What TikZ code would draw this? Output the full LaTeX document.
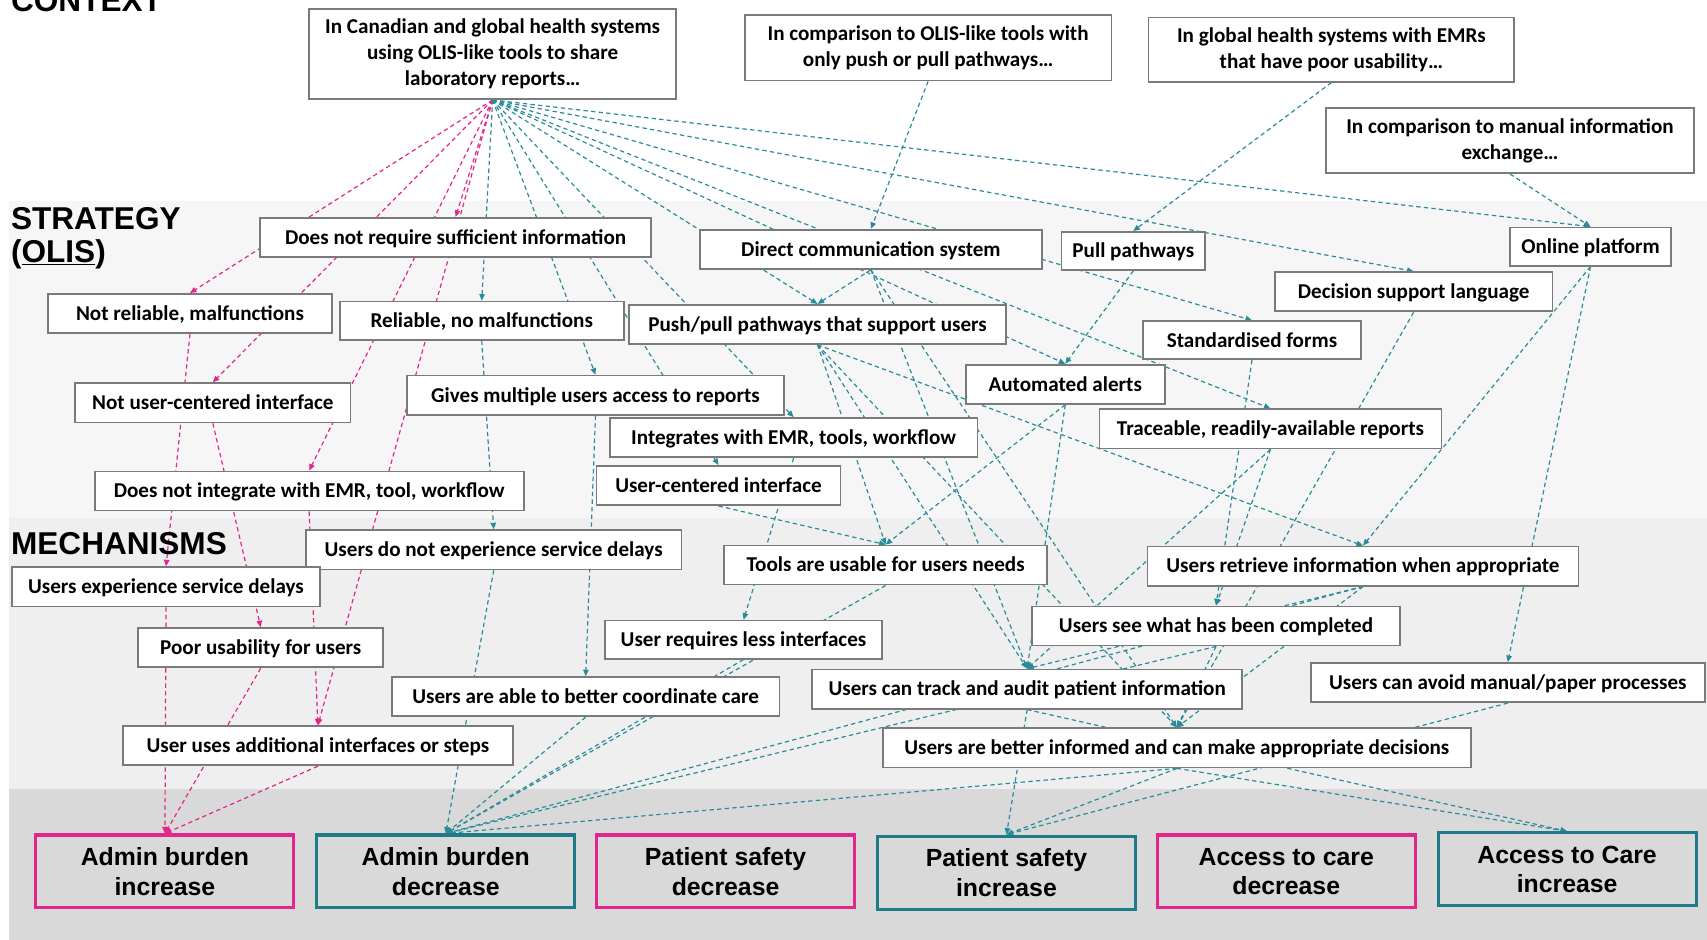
\documentclass[tikz,border=0pt]{standalone}
\usepackage{fontspec}
\setmainfont{Carlito}
\newfontfamily\arialf{Liberation Sans}
\usetikzlibrary{arrows.meta}
\definecolor{pinkc}{HTML}{E3268C}
\definecolor{tealc}{HTML}{2A8C9A}
\definecolor{tealb}{HTML}{1F7A89}
\definecolor{boxgray}{HTML}{7A7A7A}
\definecolor{bandA}{HTML}{F6F6F6}
\definecolor{bandB}{HTML}{EFEFEF}
\definecolor{bandC}{HTML}{D9D9D9}
\pgfdeclarelayer{bands}
\pgfdeclarelayer{edges}
\pgfsetlayers{bands,edges,main}
\tikzset{
  bx/.style={draw=boxgray, line width=1.6pt, fill=white, inner sep=0pt, align=center,
    font=\fontsize{19.4}{24}\selectfont\bfseries, text=black, minimum height=36pt},
  one/.style={bx, text height=16pt, text depth=3.4pt},
  oc/.style={line width=2.8pt, inner sep=0pt, align=center,
    font=\arialf\fontsize{22.8}{27}\selectfont\bfseries, minimum width=237pt, minimum height=67pt},
  ocneg/.style={oc, draw=pinkc},
  ocpos/.style={oc, draw=tealb},
  hdr/.style={font=\arialf\fontsize{29}{32}\selectfont\bfseries, inner sep=0pt, anchor=base west},
  negline/.style={draw=pinkc, line width=1.1pt, dash pattern=on 4pt off 3pt, -{Triangle[length=6pt,width=5pt]}},
  posline/.style={draw=tealc, line width=1.1pt, dash pattern=on 4pt off 3pt, -{Triangle[length=6pt,width=5pt]}},
}
\begin{document}
\begin{tikzpicture}[x=1pt,y=-1pt]
\useasboundingbox (0,0) rectangle (1568,863);
\begin{pgfonlayer}{bands}
\fill[white] (0,0) rectangle (1568,863);
\fill[bandA] (8,185) rectangle (1568,476);
\fill[bandB] (8,476) rectangle (1568,725);
\fill[bandC] (8,725) rectangle (1568,863);
\end{pgfonlayer}

% headers
\node[hdr] (hC) at (10,11) {CONTEXT};
\node[hdr] (hS) at (10,211) {STRATEGY};
\node[hdr] (hO) at (10,241) {(\underline{OLIS})};
\node[hdr] (hM) at (10,509) {MECHANISMS};

% context
\node[bx, minimum width=337pt, minimum height=83pt] (C1) at (452.5,49.5) {In Canadian and global health systems\\using OLIS-like tools to share\\laboratory reports\dots};
\node[bx, minimum width=337pt, minimum height=60pt] (C2) at (852.5,44) {In comparison to OLIS-like tools with\\only push or pull pathways\dots};
\node[bx, minimum width=336pt, minimum height=59pt] (C3) at (1223,45.5) {In global health systems with EMRs\\that have poor usability\dots};
\node[bx, minimum width=338pt, minimum height=60pt] (C4) at (1387,129) {In comparison to manual information\\exchange\dots};

% strategy
\node[one, minimum width=359pt] (S1) at (418.5,218) {Does not require sufficient information};
\node[one, minimum width=314pt] (S2) at (800,229) {Direct communication system};
\node[one, minimum width=132pt, minimum height=35pt] (S3) at (1041,230.5) {Pull pathways};
\node[one, minimum width=148pt, minimum height=35pt] (S4) at (1461,226.5) {Online platform};
\node[one, minimum width=255pt] (S5) at (1298.5,268) {Decision support language};
\node[one, minimum width=261pt] (S6) at (174.5,288) {Not reliable, malfunctions};
\node[one, minimum width=261pt, minimum height=35pt] (S7) at (442.5,294.5) {Reliable, no malfunctions};
\node[one, minimum width=346pt] (S8) at (751,298) {Push/pull pathways that support users};
\node[one, minimum width=200pt, minimum height=35pt] (S9) at (1150,312.5) {Standardised forms};
\node[one, minimum width=183pt] (S10) at (978.5,353) {Automated alerts};
\node[one, minimum width=253pt] (S11) at (195.5,370) {Not user-centered interface};
\node[one, minimum width=346pt] (S12) at (547,363) {Gives multiple users access to reports};
\node[one, minimum width=314pt] (S13) at (1167,394) {Traceable, readily-available reports};
\node[one, minimum width=338pt] (S14) at (729,402) {Integrates with EMR, tools, workflow};
\node[one, minimum width=224pt] (S15) at (660,446) {User-centered interface};
\node[one, minimum width=394pt] (S16) at (284,451) {Does not integrate with EMR, tool, workflow};

% mechanisms
\node[one, minimum width=345pt] (M1) at (453.5,505) {Users do not experience service delays};
\node[one, minimum width=297pt] (M2) at (813.5,519) {Tools are usable for users needs};
\node[one, minimum width=396pt] (M3) at (1252,520) {Users retrieve information when appropriate};
\node[one, minimum width=283pt] (M4) at (152.5,539) {Users experience service delays};
\node[one, minimum width=254pt, minimum height=35pt] (M5) at (683,587.5) {User requires less interfaces};
\node[one, minimum width=338pt] (M6) at (1117,575) {Users see what has been completed};
\node[one, minimum width=225pt] (M7) at (239.5,595) {Poor usability for users};
\node[one, minimum width=356pt] (M8) at (538,640) {Users are able to better coordinate care};
\node[one, minimum width=395pt] (M9) at (943.5,633) {Users can track and audit patient information};
\node[one, minimum width=362pt] (M10) at (1385,627) {Users can avoid manual/paper processes};
\node[one, minimum width=358pt] (M11) at (292,685) {User uses additional interfaces or steps};
\node[one, minimum width=540pt] (M12) at (1081,687) {Users are better informed and can make appropriate decisions};

% outcomes
\node[ocneg] (O1) at (151.5,800.5) {Admin burden\\increase};
\node[ocpos] (O2) at (409.5,800.5) {Admin burden\\decrease};
\node[ocneg] (O3) at (666.5,800.5) {Patient safety\\decrease};
\node[ocpos] (O4) at (924.5,801.5) {Patient safety\\increase};
\node[ocneg] (O5) at (1181.5,800.5) {Access to care\\decrease};
\node[ocpos] (O6) at (1439.5,798.5) {Access to Care\\increase};

\begin{pgfonlayer}{edges}
% negative pathway
\draw[negline] (C1.south) -- (S1.north);
\draw[negline] (C1.south) -- (S6.north);
\draw[negline] (C1.south) -- (S11.north);
\draw[negline] (C1.south) -- (S16.north);
\draw[negline] (C1.south) -- (M11.north);
\draw[negline] (S6.south) -- (M4.north);
\draw[negline] (S11.south) -- (M7.north);
\draw[negline] (S16.south) -- (M11.north);
\draw[negline] (M4.south) -- (O1.north);
\draw[negline] (M7.south) -- (O1.north);
\draw[negline] (M11.south) -- (O1.north);
% positive pathway
\foreach \t in {S7,S12,S8,S14,S15,S10,S13,S9,S5,S4}
  \draw[posline] (C1.south) -- (\t.north);
\draw[posline] (C2.south) -- (S2.north);
\draw[posline] (C3.south) -- (S3.north);
\draw[posline] (C4.south) -- (S4.north);
\draw[posline] (S2.south) -- (S8.north);
\draw[posline] (S3.south) -- (S10.north);
\draw[posline] (S7.south) -- (M1.north);
\draw[posline] (S12.south) -- (M8.north);
\draw[posline] (S15.south) -- (M2.north);
\draw[posline] (S10.south) -- (M2.north);
\draw[posline] (S8.south) -- (M2.north);
\draw[posline] (S14.south) -- (M5.north);
\draw[posline] (S8.south) -- (M3.north);
\draw[posline] (S4.south) -- (M3.north);
\draw[posline] (S4.south) -- (M10.north);
\draw[posline] (S9.south) -- (M6.north);
\draw[posline] (S13.south) -- (M6.north);
\draw[posline] (S8.south) -- (M9.north);
\draw[posline] (S2.south) -- (M9.north);
\draw[posline] (S10.south) -- (M9.north);
\draw[posline] (M3.south) -- (M9.north);
\draw[posline] (S13.south) -- (M9.north);
\draw[posline] (S8.south) -- (M12.north);
\draw[posline] (S2.south) -- (M12.north);
\draw[posline] (M6.south) -- (M12.north);
\draw[posline] (M3.south) -- (M12.north);
\draw[posline] (S5.south) -- (M12.north);
\draw[posline] (M1.south) -- (O2.north);
\draw[posline] (M8.south) -- (O2.north);
\draw[posline] (M5.south) -- (O2.north);
\draw[posline] (M2.south) -- (O2.north);
\draw[posline] (M3.south) -- (O2.north);
\draw[posline] (M6.south) -- (O2.north);
\draw[posline] (M12.south) -- (O2.north);
\draw[posline] (M9.south) -- (O4.north);
\draw[posline] (M12.south) -- (O4.north);
\draw[posline] (M10.south) -- (O4.north);
\draw[posline] (M12.south) -- (O6.north);
\draw[posline] (M9.south) -- (O6.north);
\end{pgfonlayer}
\end{tikzpicture}
\end{document}
